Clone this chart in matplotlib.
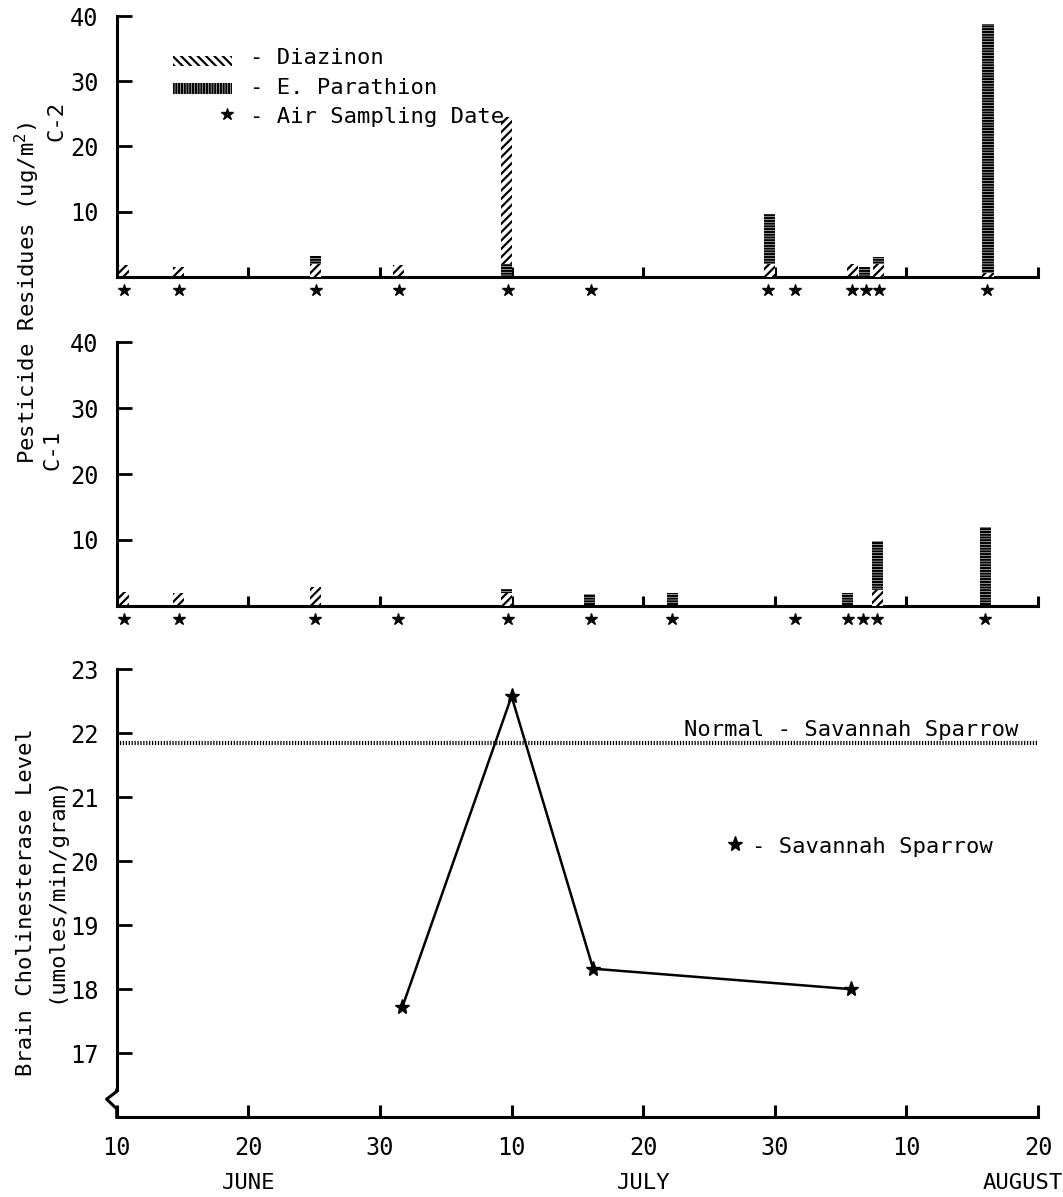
"""Pesticide residues (C-2, C-1) and brain cholinesterase of Savannah Sparrow."""
import matplotlib
matplotlib.use("Agg")
import matplotlib.pyplot as plt
from matplotlib.patches import Rectangle

plt.rcParams["font.family"] = ["DejaVu Sans Mono", "DejaVu Sans"]
plt.rcParams["font.size"] = 16
plt.rcParams["hatch.linewidth"] = 1.6
plt.rcParams["axes.linewidth"] = 2.2

# x = days after June 10 (ticks every 10 days: Jun 10, 20, 30, Jul 10, ...)
# plot C-2
c2_days = [0.5, 4.7, 15.1, 21.4, 29.6, 49.6, 55.9, 56.8, 57.9, 66.2]
c2_diazinon = [1.8, 1.5, 2.0, 1.8, 24.5, 2.0, 2.0, 0.0, 2.0, 0.5]
c2_parathion = [0.0, 0.0, 3.2, 0.0, 2.0, 9.7, 0.0, 1.5, 3.0, 38.8]
c2_air_days = [0.55, 4.7, 15.15, 21.45, 29.7, 36.0, 49.5, 51.5, 55.85, 56.9, 57.9, 66.15]

# plot C-1
c1_days = [0.5, 4.7, 15.1, 29.6, 35.9, 42.2, 55.5, 57.8, 66.0]
c1_diazinon = [2.1, 1.9, 2.9, 1.9, 0.0, 0.0, 0.0, 2.4, 0.0]
c1_parathion = [0.0, 0.0, 0.0, 2.5, 1.8, 1.9, 2.0, 9.8, 12.0]
c1_air_days = [0.55, 4.7, 15.1, 21.4, 29.7, 36.0, 42.2, 51.5, 55.6, 56.7, 57.8, 66.0]

# brain cholinesterase, Savannah Sparrow
sparrow_days = [21.7, 30.0, 36.2, 55.8]
sparrow_level = [17.72, 22.58, 18.32, 18.0]
normal_level = 21.85

day_ticks = [0, 10, 20, 30, 40, 50, 60, 70]
day_labels = ["10", "20", "30", "10", "20", "30", "10", "20"]
months = ["JUNE", "JULY", "AUGUST"]
month_pos = [10, 40, 68.8]

DIAZ_HATCH = "////"
PARA_HATCH = "------"

fig = plt.figure(figsize=(10.63, 11.97), dpi=100)
ax_c2 = fig.add_axes([0.1098, 0.7688, 0.8667, 0.2178])
ax_c1 = fig.add_axes([0.1098, 0.4940, 0.8667, 0.2199])
ax_ch = fig.add_axes([0.1098, 0.0668, 0.8667, 0.3739])


def residue_panel(ax, days, diaz, para, air_days):
    bd = ax.bar(days, diaz, width=0.85, facecolor="white", edgecolor="black",
                hatch=DIAZ_HATCH, linewidth=0)
    bp = ax.bar(days, para, width=0.85, facecolor="white", edgecolor="black",
                hatch=PARA_HATCH, linewidth=0)
    # shorter bar sits in front of the taller one
    for d, p in zip(bd, bp):
        if d.get_height() < p.get_height():
            d.set_zorder(3); p.set_zorder(2)
        else:
            d.set_zorder(2); p.set_zorder(3)
    ax.plot(air_days, [-0.052] * len(air_days), ls="none", marker="*", ms=9,
            color="black", transform=ax.get_xaxis_transform(), clip_on=False)
    ax.set_xlim(0, 70)
    ax.set_ylim(0, 40)
    ax.set_yticks([10, 20, 30, 40])
    ax.set_xticks(day_ticks[1:])
    ax.set_xticklabels([])
    ax.tick_params(axis="y", direction="in", length=11, width=2, pad=13, labelsize=17)
    ax.tick_params(axis="x", direction="in", length=7, width=2.2)
    for s in ["top", "right"]:
        ax.spines[s].set_visible(False)


residue_panel(ax_c2, c2_days, c2_diazinon, c2_parathion, c2_air_days)
residue_panel(ax_c1, c1_days, c1_diazinon, c1_parathion, c1_air_days)

# legend of the top panel
ax_c2.add_patch(Rectangle((0.0614, 0.808), 0.0634, 0.038, transform=ax_c2.transAxes,
                          facecolor="white", edgecolor="black", hatch="\\\\\\\\", linewidth=0))
ax_c2.add_patch(Rectangle((0.0614, 0.701), 0.0634, 0.041, transform=ax_c2.transAxes,
                          facecolor="white", edgecolor="black", hatch="||||||", linewidth=0))
ax_c2.plot([0.1194], [0.624], marker="*", ms=9, color="black", ls="none",
           transform=ax_c2.transAxes)
ax_c2.text(0.1447, 0.816, "- Diazinon", transform=ax_c2.transAxes, va="baseline")
ax_c2.text(0.1447, 0.701, "- E. Parathion", transform=ax_c2.transAxes, va="baseline")
ax_c2.text(0.1447, 0.588, "- Air Sampling Date", transform=ax_c2.transAxes, va="baseline")

fig.text(0.0254, 0.7552, "Pesticide Residues (ug/m$\\mathregular{^2}$)", rotation=90,
         ha="center", va="center")
fig.text(0.0536, 0.899, "C-2", rotation=90, ha="center", va="center")
fig.text(0.0490, 0.624, "C-1", rotation=90, ha="center", va="center")

# cholinesterase panel
ax_ch.axhline(normal_level, color="black", lw=3, ls=(0, (0.3, 0.4)))
ax_ch.plot(sparrow_days, sparrow_level, color="black", lw=1.8, marker="*", ms=11)
ax_ch.set_xlim(0, 70)
ax_ch.set_ylim(16, 23)
ax_ch.set_yticks([17, 18, 19, 20, 21, 22, 23])
ax_ch.set_xticks(day_ticks)
ax_ch.set_xticklabels(day_labels)
ax_ch.tick_params(axis="y", direction="in", length=11, width=2, pad=13, labelsize=17)
ax_ch.tick_params(axis="x", direction="in", length=9, width=2.2, pad=14, labelsize=17)
for s in ["top", "right"]:
    ax_ch.spines[s].set_visible(False)

# axis break at the bottom of the y axis
ax_ch.spines["left"].set_bounds(16.42, 23)
ax_ch.plot([0, 0, -0.011, 0, 0], [16.42, 16.40, 16.28, 16.13, 16.0], color="black",
           lw=2.2, transform=ax_ch.get_yaxis_transform(), clip_on=False)

for m, x in zip(months, month_pos):
    ax_ch.text(x, -0.148, m, ha="center", va="center",
               transform=ax_ch.get_xaxis_transform())

ax_ch.text(43.1, 21.96, "Normal - Savannah Sparrow", va="baseline")
ax_ch.plot([47.0], [20.27], marker="*", ms=11, color="black", ls="none")
ax_ch.text(48.3, 20.13, "- Savannah Sparrow", va="baseline")

fig.text(0.0245, 0.2465, "Brain Cholinesterase Level", rotation=90, ha="center", va="center")
fig.text(0.0517, 0.2573, "(umoles/min/gram)", rotation=90, ha="center", va="center")

fig.savefig("out.png", dpi=100)
